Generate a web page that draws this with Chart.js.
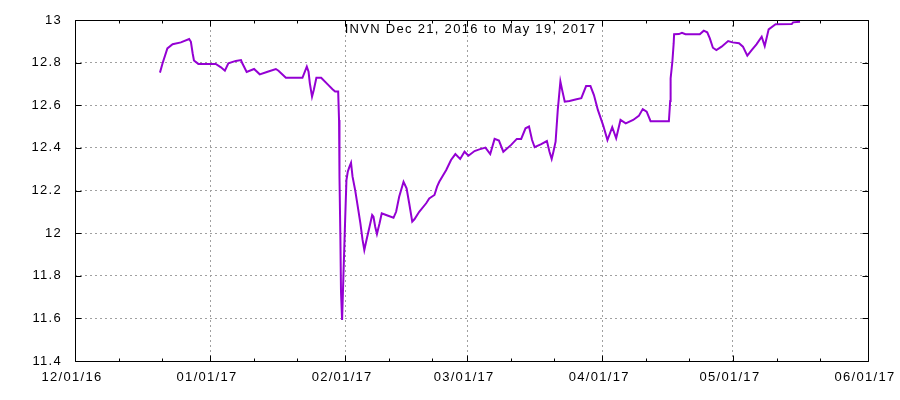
<!DOCTYPE html>
<html>
<head>
<meta charset="utf-8">
<title>INVN</title>
<script src="https://cdn.jsdelivr.net/npm/chart.js"></script>
<style>
  html, body { margin: 0; padding: 0; background: #fff; }
  canvas { display: block; }
</style>
</head>
<body>
<canvas id="chart" width="900" height="400"></canvas>
<script>
// x values are days since 12/01/16
const xTickDays   = [0, 31, 62, 90, 121, 151, 182];
const xTickLabels = ['12/01/16', '01/01/17', '02/01/17', '03/01/17', '04/01/17', '05/01/17', '06/01/17'];
const yTicks      = [11.4, 11.6, 11.8, 12, 12.2, 12.4, 12.6, 12.8, 13];
const seriesLabel = 'INVN Dec 21, 2016 to May 19, 2017';

const days = [
  19.5, 20.1, 21.2, 22.4, 24.3, 26.2, 26.6, 27.0, 27.3, 28.3,
  32.3, 33.5, 34.4, 35.2, 36.9, 38.1, 38.4, 39.4, 41.1, 42.4,
  44.2, 46.1, 46.7, 48.4, 52.2, 53.2, 53.6, 53.9, 54.4, 54.8,
  55.4, 56.5, 58.0, 59.1, 59.7, 60.4, 60.6, 60.7, 60.9, 61.05,
  61.3, 61.6, 61.8, 62.0, 62.3, 62.6, 63.0, 63.35, 63.7, 64.3,
  64.9, 65.5, 66.0, 66.4, 66.9, 67.6, 68.2, 68.5, 68.9, 69.3,
  69.9, 70.4, 71.4, 73.1, 73.7, 74.4, 75.4, 76.1, 76.7, 77.4,
  77.9, 79.0, 80.6, 81.3, 82.5, 83.1, 83.6, 85.2, 86.3, 87.3,
  88.4, 89.4, 90.3, 91.7, 92.8, 94.2, 95.3, 96.3, 97.3, 98.3,
  100.1, 101.4, 102.4, 103.4, 104.2, 104.9, 105.5, 107.0, 108.3, 108.9,
  109.4, 109.8, 110.3, 110.8, 111.05, 111.4, 111.8, 112.4, 113.5, 115.1,
  116.2, 117.3, 118.3, 119.1, 120.0, 121.2, 122.2, 123.3, 124.2, 125.2,
  126.4, 128.1, 129.4, 130.3, 131.2, 132.1, 136.3, 136.6, 136.7, 137.1,
  137.4, 137.5, 138.6, 139.3, 140.1, 143.4, 144.3, 145.1, 145.7, 146.4,
  147.2, 148.4, 149.9, 150.9, 152.4, 153.3, 154.3, 155.3, 156.4, 157.6,
  158.3, 159.2, 160.8, 164.5, 164.8, 166.4
];
const prices = [
  12.753, 12.797, 12.867, 12.886, 12.895, 12.911, 12.898, 12.844, 12.810, 12.794,
  12.794, 12.778, 12.762, 12.797, 12.808, 12.812, 12.797, 12.756, 12.770, 12.745,
  12.757, 12.770, 12.762, 12.729, 12.729, 12.781, 12.757, 12.703, 12.640, 12.672,
  12.729, 12.729, 12.698, 12.675, 12.664, 12.664, 12.531, 12.265, 11.991, 11.725,
  11.592, 11.796, 11.929, 12.062, 12.249, 12.288, 12.312, 12.330, 12.265, 12.202,
  12.124, 12.046, 11.968, 11.921, 11.968, 12.030, 12.085, 12.077, 12.030, 11.996,
  12.046, 12.093, 12.085, 12.072, 12.100, 12.171, 12.241, 12.210, 12.140, 12.054,
  12.065, 12.100, 12.140, 12.163, 12.179, 12.218, 12.241, 12.296, 12.343, 12.371,
  12.348, 12.382, 12.363, 12.385, 12.393, 12.401, 12.371, 12.442, 12.434, 12.382,
  12.414, 12.442, 12.442, 12.492, 12.500, 12.437, 12.403, 12.418, 12.432, 12.382,
  12.348, 12.382, 12.429, 12.578, 12.633, 12.711, 12.672, 12.617, 12.620, 12.628,
  12.633, 12.690, 12.690, 12.648, 12.578, 12.507, 12.437, 12.497, 12.445, 12.531,
  12.515, 12.531, 12.550, 12.582, 12.570, 12.525, 12.525, 12.620, 12.726, 12.804,
  12.890, 12.933, 12.934, 12.940, 12.933, 12.933, 12.950, 12.942, 12.914, 12.870,
  12.859, 12.875, 12.901, 12.895, 12.891, 12.875, 12.833, 12.859, 12.886, 12.922,
  12.878, 12.956, 12.980, 12.981, 12.989, 12.992
];

const FONT = '"Liberation Sans", Arial, sans-serif';
const FONT_SIZE = 13;
const LETTER_SPACING = '1.3px';   // gnuplot's png text is spaced wider than plain Arial

// widen text for everything chart.js draws (tick labels)
const spacingPlugin = {
  id: 'spacing',
  beforeDraw(chart) { chart.ctx.letterSpacing = LETTER_SPACING; },
  afterDraw(chart) { chart.ctx.letterSpacing = '0px'; }
};

// border, inward tics on all four sides, and the in-plot title
const framePlugin = {
  id: 'frame',
  afterDraw(chart) {
    const { ctx, chartArea: a, scales: { x, y } } = chart;
    const L = Math.floor(a.left) + 0.5, R = Math.floor(a.right) + 0.5;
    const T = Math.floor(a.top) + 0.5,  B = Math.floor(a.bottom) + 0.5;
    ctx.save();
    ctx.strokeStyle = '#000';
    ctx.lineWidth = 1;
    ctx.beginPath();
    ctx.rect(L, T, R - L, B - T);

    const xTic = (d, len) => {
      const px = Math.round(x.getPixelForValue(d)) + 0.5;
      ctx.moveTo(px, B); ctx.lineTo(px, B - len);
      ctx.moveTo(px, T); ctx.lineTo(px, T + len);
    };
    xTickDays.forEach((d, i) => {
      xTic(d, 6);
      if (i < xTickDays.length - 1) { xTic(d + 10, 3); xTic(d + 20, 3); }
    });
    yTicks.forEach(v => {
      const py = Math.round(y.getPixelForValue(v)) + 0.5;
      ctx.moveTo(L, py); ctx.lineTo(L + 6, py);
      ctx.moveTo(R, py); ctx.lineTo(R - 6, py);
    });
    ctx.stroke();

    ctx.fillStyle = '#000';
    ctx.font = FONT_SIZE + 'px ' + FONT;
    ctx.letterSpacing = LETTER_SPACING;
    ctx.textAlign = 'center';
    ctx.textBaseline = 'middle';
    ctx.fillText(seriesLabel, (a.left + a.right) / 2 - 1, 29);
    ctx.restore();
  }
};

new Chart(document.getElementById('chart'), {
  type: 'line',
  data: {
    datasets: [{
      label: seriesLabel,
      data: days.map((d, i) => ({ x: d, y: prices[i] })),
      borderColor: '#9400d3',
      borderWidth: 2,
      pointRadius: 0,
      tension: 0,
      fill: false
    }]
  },
  options: {
    responsive: false,
    animation: false,
    devicePixelRatio: 1,
    layout: { padding: { top: 20, right: 32, left: 0, bottom: 0 } },
    plugins: {
      legend: { display: false },
      tooltip: { enabled: false },
      title: { display: false }
    },
    scales: {
      x: {
        type: 'linear',
        min: 0,
        max: 182,
        afterBuildTicks: s => { s.ticks = xTickDays.map(v => ({ value: v })); },
        afterFit: s => { s.height = 39; s.paddingLeft = 0; s.paddingRight = 0; },
        ticks: {
          autoSkip: false,
          maxRotation: 0,
          padding: 9,
          labelOffset: -3,
          color: '#000',
          font: { family: FONT, size: FONT_SIZE },
          callback: (v, i) => xTickLabels[i]
        },
        grid: { color: '#a0a0a0', lineWidth: 1, drawTicks: false },
        border: { display: false, dash: [2, 3] }
      },
      y: {
        min: 11.4,
        max: 13,
        afterBuildTicks: s => { s.ticks = yTicks.map(v => ({ value: v })); },
        afterFit: s => { s.width = 75; s.paddingTop = 0; s.paddingBottom = 0; },
        ticks: {
          padding: 13,
          color: '#000',
          font: { family: FONT, size: FONT_SIZE },
          callback: v => String(+v.toFixed(1))
        },
        grid: { color: '#a0a0a0', lineWidth: 1, drawTicks: false },
        border: { display: false, dash: [2, 3] }
      }
    }
  },
  plugins: [spacingPlugin, framePlugin]
});
</script>
</body>
</html>
